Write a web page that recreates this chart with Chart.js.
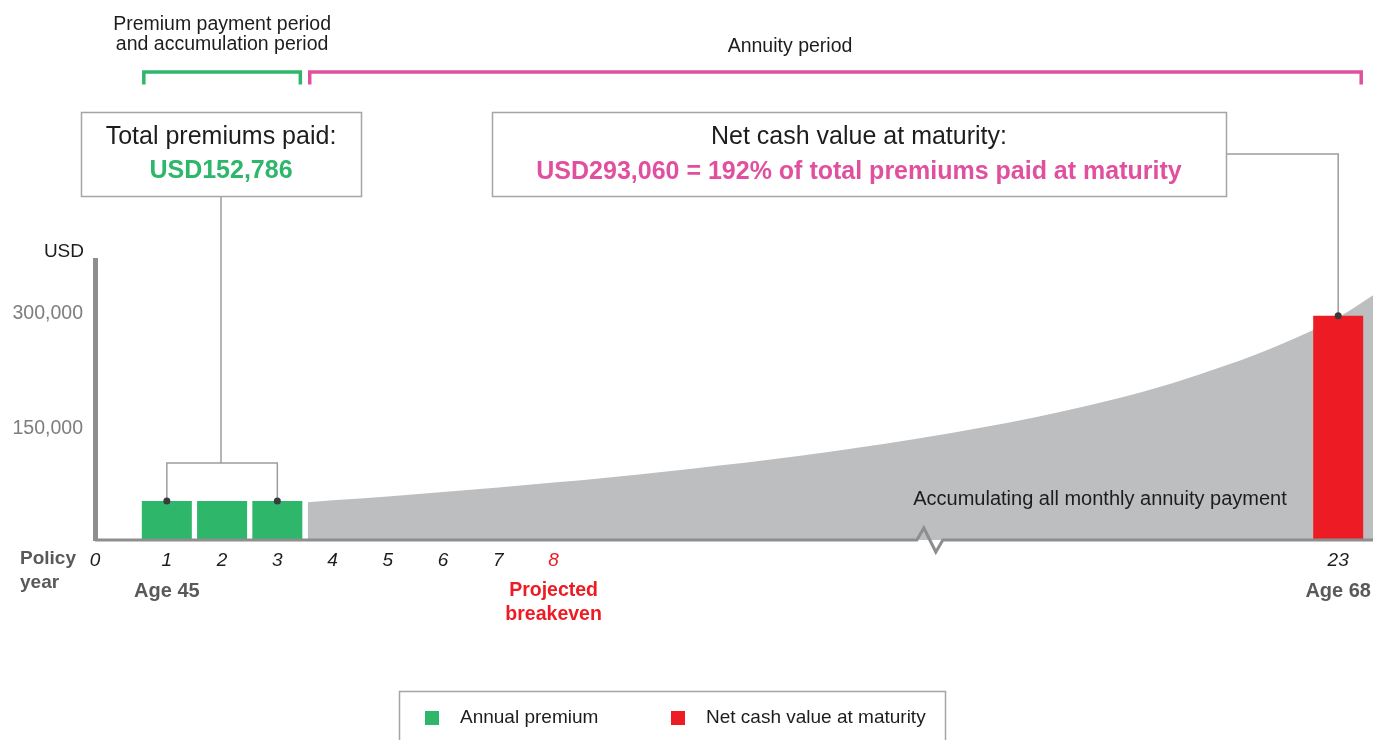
<!DOCTYPE html>
<html>
<head>
<meta charset="utf-8">
<title>Policy value illustration</title>
<script src="https://cdn.jsdelivr.net/npm/chart.js"></script>
<style>
  html, body { margin: 0; background: #fff; }
  #wrap { width: 1373px; height: 740px; }
</style>
</head>
<body>
<div id="wrap"><canvas id="chart"></canvas></div>
<script>
// values
const premiumYears = [1, 2, 3];
const annualPremiums = [50929, 50929, 50928];
const maturityYears = [23];
const netCashValues = [293060];
const annuityYears = [3.55, 4, 5, 6, 7, 8, 9, 10, 11, 12, 13, 14, 16, 17, 18, 19, 20, 21, 22, 23, 23.63];
const annuityTotals = [49300, 51800, 57000, 62600, 68600, 75000, 81800, 89200, 97300, 106000, 115500, 125800,
  140000, 153000, 168000, 185000, 205000, 229000, 257000, 291000, 320000];
const yearTicks = [0, 1, 2, 3, 4, 5, 6, 7, 8, 23];
const usdTicks = [150000, 300000];
const breakevenYear = 8;
const ageYears = [1, 23];
const ageLabels = ['Age 45', 'Age 68'];

const GREEN = '#2eb66b';
const RED = '#ed1c24';
const PINK = '#e0509e';
const AREA = '#bdbec0';
const AXIS = '#8e8e8e';
const LINE = '#9d9d9d';
const DOT = '#3b3b3b';
const INK = '#1d1d1d';
const MUTED = '#58595b';
const FAMILY = '"Liberation Sans", Arial, sans-serif';

const BOX1 = { x: 81, y: 112, w: 280, h: 84 };
const BOX2 = { x: 492, y: 112, w: 734, h: 84 };
const BRACE_Y = 463;

const totalPremiums = annualPremiums.reduce((a, b) => a + b, 0);
const usd = v => 'USD' + v.toLocaleString('en-US');

// linear axis with a short stretch cut out (the zigzag on the year axis)
class BrokenLinearScale extends Chart.LinearScale {
  static id = 'brokenLinear';
  static defaults = Chart.LinearScale.defaults;

  squeeze(v) {
    const { from, to } = this.options.gap;
    if (v <= from) return v;
    return v >= to ? v - (to - from) : from;
  }
  getPixelForValue(value) {
    const lo = this.squeeze(this.min);
    const hi = this.squeeze(this.max);
    return this.getPixelForDecimal((this.squeeze(value) - lo) / (hi - lo));
  }
  getValueForPixel(pixel) {
    const lo = this.squeeze(this.min);
    const hi = this.squeeze(this.max);
    const c = lo + this.getDecimalForPixel(pixel) * (hi - lo);
    const { from, to } = this.options.gap;
    return c <= from ? c : c + (to - from);
  }
  getPixelForTick(index) {
    const tick = this.ticks[index];
    if (!tick) return null;
    // year 0 is printed on the origin
    return tick.value === 0 ? this.left : this.getPixelForValue(tick.value);
  }
}
Chart.register(BrokenLinearScale);

function font(size, weight = 'normal') {
  return `${weight} ${size}px ${FAMILY}`;
}

function label(ctx, str, x, y, f, color, align = 'center') {
  ctx.font = f;
  ctx.fillStyle = color;
  ctx.textAlign = align;
  ctx.textBaseline = 'middle';
  ctx.fillText(str, x, y);
}

function box(ctx, b) {
  ctx.strokeStyle = '#a5a5a5';
  ctx.lineWidth = 1.5;
  ctx.strokeRect(b.x + 0.5, b.y + 0.5, b.w, b.h);
}

const annotations = {
  id: 'annotations',
  afterDatasetsDraw(chart) {
    const { ctx, chartArea: area, scales: { x } } = chart;
    const zero = area.bottom;
    const brk = x.getPixelForValue(x.options.gap.from);
    const bars = chart.getDatasetMeta(1).data;
    const first = bars[0], last = bars[bars.length - 1];
    const mat = chart.getDatasetMeta(2).data[0];

    ctx.save();
    ctx.strokeStyle = AXIS;
    ctx.lineWidth = 3;
    ctx.lineJoin = 'miter';
    ctx.beginPath();
    ctx.moveTo(area.left, zero);
    ctx.lineTo(brk - 18, zero);
    ctx.lineTo(brk - 11, zero - 12);
    ctx.lineTo(brk + 1, zero + 12);
    ctx.lineTo(brk + 8, zero);
    ctx.lineTo(area.right, zero);
    ctx.stroke();

    ctx.strokeStyle = LINE;
    ctx.lineWidth = 1.5;
    ctx.beginPath();
    ctx.moveTo(BOX1.x + BOX1.w / 2, BOX1.y + BOX1.h);
    ctx.lineTo(BOX1.x + BOX1.w / 2, BRACE_Y);
    ctx.moveTo(first.x, first.y);
    ctx.lineTo(first.x, BRACE_Y);
    ctx.lineTo(last.x, BRACE_Y);
    ctx.lineTo(last.x, last.y);
    ctx.moveTo(BOX2.x + BOX2.w, BOX2.y + BOX2.h / 2);
    ctx.lineTo(mat.x, BOX2.y + BOX2.h / 2);
    ctx.lineTo(mat.x, mat.y);
    ctx.stroke();

    ctx.fillStyle = DOT;
    [first, last, mat].forEach(p => {
      ctx.beginPath();
      ctx.arc(p.x, p.y, 3.5, 0, Math.PI * 2);
      ctx.fill();
    });
    ctx.restore();
  },
  afterDraw(chart) {
    const { ctx, scales: { x } } = chart;
    const bars = chart.getDatasetMeta(1).data;
    const first = bars[0], last = bars[bars.length - 1];
    const mat = chart.getDatasetMeta(2).data[0];
    const areaStart = chart.getDatasetMeta(0).data[0];

    ctx.save();
    // period brackets
    const bracket = (x0, x1, color) => {
      ctx.strokeStyle = color;
      ctx.lineWidth = 3.5;
      ctx.lineCap = 'butt';
      ctx.beginPath();
      ctx.moveTo(x0, 84.5);
      ctx.lineTo(x0, 72);
      ctx.lineTo(x1, 72);
      ctx.lineTo(x1, 84.5);
      ctx.stroke();
    };
    const g0 = first.x - first.width / 2 + 2, g1 = last.x + last.width / 2 - 2;
    bracket(g0, g1, GREEN);
    bracket(areaStart.x + 2, mat.x + mat.width / 2 - 2, PINK);

    label(ctx, 'Premium payment period', (g0 + g1) / 2, 25, font(19.5), INK);
    label(ctx, 'and accumulation period', (g0 + g1) / 2, 45, font(19.5), INK);
    label(ctx, 'Annuity period', 790, 47, font(19.5), INK);

    box(ctx, BOX1);
    label(ctx, 'Total premiums paid:', BOX1.x + BOX1.w / 2, BOX1.y + 25, font(25), INK);
    label(ctx, usd(totalPremiums), BOX1.x + BOX1.w / 2, BOX1.y + 59, font(25, 'bold'), GREEN);

    box(ctx, BOX2);
    const pct = Math.round(netCashValues[0] / totalPremiums * 100);
    label(ctx, 'Net cash value at maturity:', BOX2.x + BOX2.w / 2, BOX2.y + 25, font(25), INK);
    label(ctx, `${usd(netCashValues[0])} = ${pct}% of total premiums paid at maturity`,
      BOX2.x + BOX2.w / 2, BOX2.y + 60, font(25, 'bold'), PINK);

    label(ctx, 'USD', 84, 252, font(19), INK, 'right');
    label(ctx, chart.data.datasets[0].label, 1100, 499, font(20), INK);

    label(ctx, 'Policy', 20, 559, font(19, 'bold'), MUTED, 'left');
    label(ctx, 'year', 20, 583, font(19, 'bold'), MUTED, 'left');
    ageYears.forEach((yr, i) => label(ctx, ageLabels[i], x.getPixelForValue(yr), 591, font(20, 'bold'), MUTED));
    const bx = x.getPixelForValue(breakevenYear);
    label(ctx, 'Projected', bx, 591, font(19.5, 'bold'), RED);
    label(ctx, 'breakeven', bx, 615, font(19.5, 'bold'), RED);

    // legend
    ctx.strokeStyle = '#a5a5a5';
    ctx.lineWidth = 1.5;
    ctx.strokeRect(399.5, 691.5, 546, 80);
    [1, 2].forEach((di, i) => {
      const ds = chart.data.datasets[di];
      const lx = [425, 671][i];
      ctx.fillStyle = ds.backgroundColor;
      ctx.fillRect(lx, 711, 14, 14);
      label(ctx, ds.label, lx + 35, 718, font(19), INK, 'left');
    });
    ctx.restore();
  }
};

new Chart(document.getElementById('chart'), {
  data: {
    datasets: [
      {
        type: 'line',
        label: 'Accumulating all monthly annuity payment',
        data: annuityYears.map((x, i) => ({ x, y: annuityTotals[i] })),
        fill: 'origin',
        backgroundColor: AREA,
        borderWidth: 0,
        pointRadius: 0,
        cubicInterpolationMode: 'monotone',
        order: 2
      },
      {
        type: 'bar',
        label: 'Annual premium',
        data: premiumYears.map((x, i) => ({ x, y: annualPremiums[i] })),
        backgroundColor: GREEN,
        order: 1
      },
      {
        type: 'bar',
        label: 'Net cash value at maturity',
        data: maturityYears.map((x, i) => ({ x, y: netCashValues[i] })),
        backgroundColor: RED,
        order: 1
      }
    ]
  },
  options: {
    responsive: true,
    maintainAspectRatio: false,
    animation: false,
    layout: { padding: { top: 260, right: 0, bottom: 0, left: 0 } },
    datasets: {
      bar: { grouped: false, barPercentage: 0.905, categoryPercentage: 1, borderWidth: 0 }
    },
    plugins: {
      legend: { display: false },
      tooltip: { enabled: false }
    },
    scales: {
      x: {
        type: 'brokenLinear',
        min: -0.3,
        max: 23.63,
        offset: false,
        gap: { from: 14.9, to: 15.7 },
        border: { display: false },
        grid: { display: false, drawTicks: false },
        afterBuildTicks: s => { s.ticks = yearTicks.map(value => ({ value })); },
        afterFit: s => { s.height = 200; },
        ticks: {
          autoSkip: false,
          maxRotation: 0,
          padding: 9,
          font: { family: FAMILY, size: 19, style: 'italic' },
          color: c => (c.tick && c.tick.value === breakevenYear ? RED : INK),
          callback: v => String(v)
        }
      },
      y: {
        min: 0,
        max: 366000,
        border: { color: AXIS, width: 5 },
        grid: { display: false, drawTicks: false },
        afterBuildTicks: s => { s.ticks = usdTicks.map(value => ({ value })); },
        afterFit: s => { s.width = 95; },
        ticks: {
          padding: 12,
          labelOffset: 3,
          color: '#7d7d7d',
          font: { family: FAMILY, size: 19.5 },
          callback: v => v.toLocaleString('en-US')
        }
      }
    }
  },
  plugins: [annotations]
});
</script>
</body>
</html>
